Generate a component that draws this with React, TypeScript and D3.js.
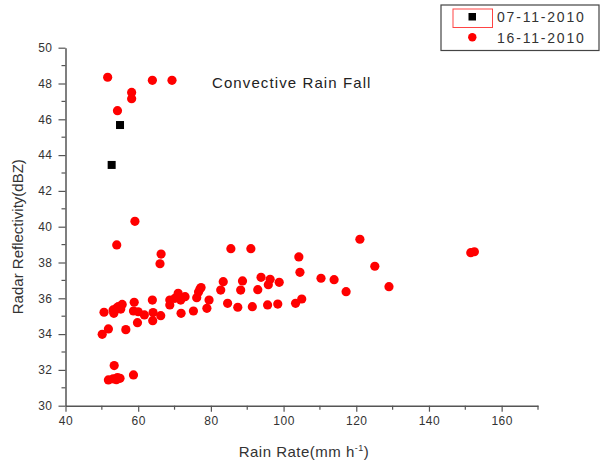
import { useEffect, useRef } from "react";
import * as d3 from "d3";

// 07-11-2010 (black squares)
const novSevenRate = [52.7, 55.0];
const novSevenDbz = [43.45, 45.68];

// 16-11-2010 (red dots)
const novSixteenRate = [
  51.6, 54.3, 58.2, 58.2, 63.9, 69.3, 59.1, 54.1, 66.3, 66.0, 85.5, 91.0, 121.0,
  104.2, 104.5, 125.1, 129.0, 110.3, 113.9, 117.2, 151.5, 152.5,
  50.1, 51.8, 56.6, 50.6, 53.1, 53.3, 54.5, 55.6, 54.0, 55.2, 58.9, 58.7, 60.0,
  59.8, 61.7, 63.9, 64.1, 64.0, 66.2, 68.7, 68.7, 71.0, 71.7, 72.9, 71.8, 75.2,
  77.0, 76.1, 76.6, 79.5, 78.9, 83.4, 82.7, 84.6, 87.4, 88.7, 88.2, 91.4, 92.9,
  93.8, 96.3, 95.8, 98.8, 95.6, 98.4, 103.3, 105.0, 70.1, 77.3,
  53.4, 51.8, 53.1, 54.3, 55.0, 58.7, 54.0,
];
const novSixteenDbz = [
  48.35, 46.48, 47.5, 47.15, 48.18, 48.18, 40.3, 38.98, 38.47, 37.93, 38.77, 38.77, 39.3,
  38.31, 37.45, 37.79, 36.65, 37.12, 37.04, 36.37, 38.55, 38.6,
  33.99, 34.29, 34.25, 35.22, 35.35, 35.16, 35.53, 35.66, 35.45, 35.4, 35.78, 35.29, 35.25,
  34.64, 35.07, 35.9, 35.2, 34.75, 35.03, 35.9, 35.63, 36.28, 35.9, 36.09, 35.16, 35.29,
  36.52, 36.03, 36.35, 35.9, 35.44, 36.93, 36.46, 35.72, 35.5, 36.97, 36.46, 35.53, 36.48,
  37.17, 37.06, 36.76, 36.89, 35.63, 35.68, 35.72, 35.96, 36.0, 36.6,
  32.24, 31.44, 31.5, 31.57, 31.53, 31.72, 31.45,
];

const legendLabels = ["07-11-2010", "16-11-2010"];
const xTicks = [40, 60, 80, 100, 120, 140, 160];
const yTicks = [30, 32, 34, 36, 38, 40, 42, 44, 46, 48, 50];

const FONT = "'Liberation Sans', Arial, sans-serif";
const AXIS = "#555";
const TEXT = "#333";

export default function App() {
  const svgRef = useRef<SVGSVGElement>(null);

  useEffect(() => {
    if (!svgRef.current) return;
    const svg = d3.select(svgRef.current);
    svg.selectAll("*").remove();

    const x = d3.scaleLinear().domain([40, 170]).range([65.5, 538]);
    const y = d3.scaleLinear().domain([30, 50]).range([405.7, 47.7]);

    // minor ticks
    const xMinor = d3.range(50, 171, 20);
    const yMinor = d3.range(31, 50, 2);

    const xAxis = svg
      .append("g")
      .attr("transform", `translate(0,${y(30)})`)
      .call(d3.axisBottom(x).tickValues(xTicks).tickSize(6).tickSizeOuter(0).tickPadding(5));
    xAxis.select(".domain").attr("stroke", AXIS).attr("stroke-width", 1.5);
    xAxis.selectAll(".tick line").attr("stroke", AXIS).attr("stroke-width", 1.2);
    xAxis
      .selectAll(".tick text")
      .attr("fill", TEXT)
      .attr("font-family", FONT)
      .attr("font-size", "12px")
      .attr("letter-spacing", "0.5px");
    xAxis
      .selectAll(".minor")
      .data(xMinor)
      .join("line")
      .attr("x1", (d) => x(d))
      .attr("x2", (d) => x(d))
      .attr("y1", 0)
      .attr("y2", 4)
      .attr("stroke", AXIS)
      .attr("stroke-width", 1.2);

    const yAxis = svg
      .append("g")
      .attr("transform", `translate(${x(40)},0)`)
      .call(d3.axisLeft(y).tickValues(yTicks).tickSize(7).tickSizeOuter(0).tickPadding(6));
    yAxis.select(".domain").attr("stroke", AXIS).attr("stroke-width", 1.5);
    yAxis.selectAll(".tick line").attr("stroke", AXIS).attr("stroke-width", 1.2);
    yAxis
      .selectAll(".tick text")
      .attr("fill", TEXT)
      .attr("font-family", FONT)
      .attr("font-size", "12px")
      .attr("letter-spacing", "0.5px");
    yAxis
      .selectAll(".minor")
      .data(yMinor)
      .join("line")
      .attr("x1", 0)
      .attr("x2", -4)
      .attr("y1", (d) => y(d))
      .attr("y2", (d) => y(d))
      .attr("stroke", AXIS)
      .attr("stroke-width", 1.2);

    // axis titles
    const xTitle = svg
      .append("text")
      .attr("x", 304)
      .attr("y", 457)
      .attr("text-anchor", "middle")
      .attr("fill", TEXT)
      .attr("font-family", FONT)
      .attr("font-size", "15px")
      .attr("letter-spacing", "0.5px");
    xTitle.append("tspan").text("Rain Rate(mm h");
    xTitle.append("tspan").attr("font-size", "9px").attr("dy", -6).text("-1");
    xTitle.append("tspan").attr("dy", 6).text(")");

    svg
      .append("text")
      .attr("transform", `translate(23,${(y(30) + y(50)) / 2 + 10}) rotate(-90)`)
      .attr("text-anchor", "middle")
      .attr("fill", TEXT)
      .attr("font-family", FONT)
      .attr("font-size", "15px")
      .text("Radar Reflectivity(dBZ)");

    svg
      .append("text")
      .attr("x", 212)
      .attr("y", 88)
      .attr("fill", "#222")
      .attr("font-family", FONT)
      .attr("font-size", "15px")
      .attr("letter-spacing", "1.1px")
      .text("Convective Rain Fall");

    // series
    const red = novSixteenRate.map((r, i) => ({ r, z: novSixteenDbz[i] }));
    svg
      .append("g")
      .selectAll("circle")
      .data(red)
      .join("circle")
      .attr("cx", (d) => x(d.r))
      .attr("cy", (d) => y(d.z))
      .attr("r", 4.6)
      .attr("fill", "#ff0000");

    const black = novSevenRate.map((r, i) => ({ r, z: novSevenDbz[i] }));
    svg
      .append("g")
      .selectAll("rect")
      .data(black)
      .join("rect")
      .attr("x", (d) => x(d.r) - 4)
      .attr("y", (d) => y(d.z) - 4)
      .attr("width", 8)
      .attr("height", 8)
      .attr("fill", "#000");

    // legend
    const lg = svg.append("g");
    lg.append("rect")
      .attr("x", 441)
      .attr("y", 5)
      .attr("width", 158)
      .attr("height", 45.5)
      .attr("fill", "#fff")
      .attr("stroke", "#444")
      .attr("stroke-width", 1.2);
    lg.append("rect")
      .attr("x", 453)
      .attr("y", 9)
      .attr("width", 39.5)
      .attr("height", 18.5)
      .attr("fill", "none")
      .attr("stroke", "#ff4444")
      .attr("stroke-width", 1);
    lg.append("rect")
      .attr("x", 468.5)
      .attr("y", 13)
      .attr("width", 7.5)
      .attr("height", 7.5)
      .attr("fill", "#000");
    lg.append("circle").attr("cx", 472.3).attr("cy", 37.3).attr("r", 4.2).attr("fill", "#ff0000");
    lg.selectAll(".lbl")
      .data(legendLabels)
      .join("text")
      .attr("x", 497)
      .attr("y", (_, i) => 22 + i * 20.5)
      .attr("fill", TEXT)
      .attr("font-family", FONT)
      .attr("font-size", "14px")
      .attr("letter-spacing", "1.8px")
      .text((d) => d);
  }, []);

  return (
    <svg
      ref={svgRef}
      width={605}
      height={466}
      style={{ position: "absolute", left: 0, top: 0, background: "#fff" }}
    />
  );
}
